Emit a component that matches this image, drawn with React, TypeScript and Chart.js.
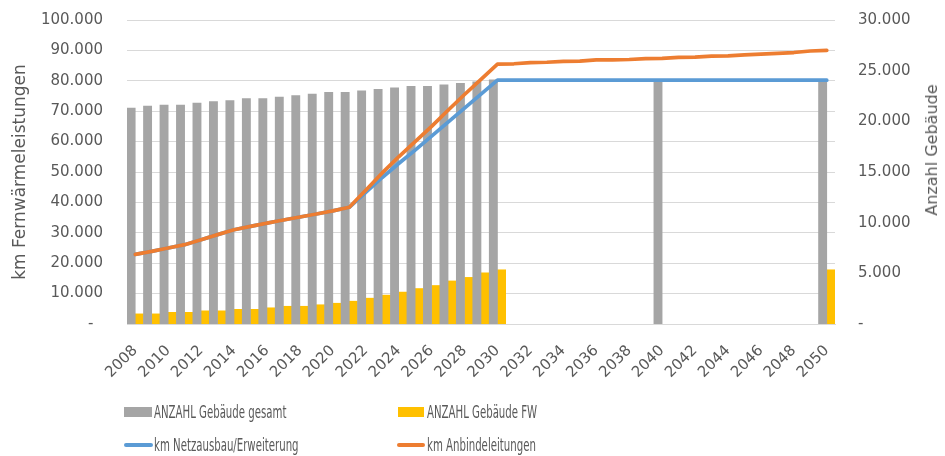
import React, { useEffect, useRef } from 'react';
import { Chart, registerables } from 'chart.js';

Chart.register(...registerables);

const years = [
  '2008', '2009', '2010', '2011', '2012', '2013', '2014', '2015', '2016', '2017',
  '2018', '2019', '2020', '2021', '2022', '2023', '2024', '2025', '2026', '2027',
  '2028', '2029', '2030', '2031', '2032', '2033', '2034', '2035', '2036', '2037',
  '2038', '2039', '2040', '2041', '2042', '2043', '2044', '2045', '2046', '2047',
  '2048', '2049', '2050',
];

// Anzahl Gebäude (right axis)
const gebaeudeGesamt = [
  21300, 21500, 21600, 21600, 21800, 21950, 22050, 22250, 22250, 22400,
  22550, 22700, 22850, 22850, 23000, 23150, 23300, 23450, 23450, 23600,
  23750, 23900, 24100, null, null, null, null, null, null, null,
  null, null, 24100, null, null, null, null, null, null, null,
  null, null, 24100,
];

const gebaeudeFW = [
  1000, 1000, 1150, 1150, 1300, 1300, 1450, 1450, 1600, 1750,
  1750, 1900, 2050, 2250, 2550, 2850, 3150, 3500, 3800, 4250,
  4600, 5050, 5350, null, null, null, null, null, null, null,
  null, null, null, null, null, null, null, null, null, null,
  null, null, 5350,
];

// km (left axis)
const kmNetzausbau = [
  22900, 23900, 25000, 26100, 27700, 29400, 31000, 32100, 33200, 34200,
  35200, 36200, 37200, 38400, 43300, 48200, 52800, 57200, 61800, 66400,
  71000, 75600, 80200, 80200, 80200, 80200, 80200, 80200, 80200, 80200,
  80200, 80200, 80200, 80200, 80200, 80200, 80200, 80200, 80200, 80200,
  80200, 80200, 80200,
];

const kmAnbindeleitungen = [
  22900, 23900, 25000, 26100, 27700, 29400, 31000, 32100, 33200, 34200,
  35200, 36200, 37200, 38400, 44000, 49700, 55000, 60000, 65000, 70300,
  75500, 80500, 85500, 85600, 86000, 86100, 86400, 86500, 86900, 86900,
  87000, 87300, 87400, 87700, 87800, 88100, 88200, 88500, 88800, 89000,
  89300, 89800, 90000,
];

const seriesNames = [
  'ANZAHL Gebäude gesamt',
  'ANZAHL Gebäude FW',
  'km Netzausbau/Erweiterung',
  'km Anbindeleitungen',
];

const leftTitle = 'km Fernwärmeleistungen';
const rightTitle = 'Anzahl Gebäude';

const GRAY = '#A5A5A5';
const YELLOW = '#FFC000';
const BLUE = '#5B9BD5';
const ORANGE = '#ED7D31';
const TEXT = '#595959';
const GRID = '#D9D9D9';
const FONT = "'DejaVu Sans', 'Liberation Sans', sans-serif";
const LEGEND_FONT = "'DejaVu Sans Condensed', 'Liberation Sans Narrow', 'Liberation Sans', sans-serif";

// canvas is shifted up so that the plot area starts 19px from the top of the page
const SHIFT = 13;

function fmt(v: number): string {
  if (v === 0) return '-  ';
  return String(v).replace(/\B(?=(\d{3})+(?!\d))/g, '.');
}

export default function App() {
  const ref = useRef<HTMLCanvasElement>(null);

  useEffect(() => {
    if (!ref.current) return;
    const chart = new Chart(ref.current, {
      type: 'bar',
      data: {
        labels: years,
        datasets: [
          {
            type: 'bar',
            label: seriesNames[0],
            data: gebaeudeGesamt,
            backgroundColor: GRAY,
            yAxisID: 'y1',
            order: 3,
            categoryPercentage: 1,
            barPercentage: 1,
          },
          {
            type: 'bar',
            label: seriesNames[1],
            data: gebaeudeFW,
            backgroundColor: YELLOW,
            yAxisID: 'y1',
            order: 4,
            categoryPercentage: 1,
            barPercentage: 1,
          },
          {
            type: 'line',
            label: seriesNames[2],
            data: kmNetzausbau,
            borderColor: BLUE,
            backgroundColor: BLUE,
            borderWidth: 3.7,
            pointRadius: 0,
            tension: 0,
            borderCapStyle: 'round',
            borderJoinStyle: 'round',
            yAxisID: 'y',
            order: 2,
          },
          {
            type: 'line',
            label: seriesNames[3],
            data: kmAnbindeleitungen,
            borderColor: ORANGE,
            backgroundColor: ORANGE,
            borderWidth: 3.7,
            pointRadius: 0,
            tension: 0,
            borderCapStyle: 'round',
            borderJoinStyle: 'round',
            yAxisID: 'y',
            order: 1,
          },
        ],
      } as any,
      options: {
        responsive: false,
        devicePixelRatio: 1,
        animation: false,
        layout: { padding: { left: 0, right: 0, top: 0, bottom: 72 } },
        plugins: {
          legend: { display: false },
          tooltip: { enabled: false },
        },
        scales: {
          x: {
            offset: true,
            grid: { display: false },
            border: { display: true, color: GRID, width: 1 },
            ticks: {
              autoSkip: false,
              maxRotation: 45,
              minRotation: 45,
              padding: 10,
              color: TEXT,
              font: { family: FONT, size: 15 },
              callback: (_v: any, i: number) => (i % 2 === 0 ? years[i] : ''),
            },
            afterFit: (s: any) => {
              s.height = 60;
            },
          },
          y: {
            position: 'left',
            min: 0,
            max: 100000,
            grid: { color: GRID, lineWidth: 1, drawTicks: false },
            border: { display: false },
            ticks: {
              stepSize: 10000,
              padding: 24,
              color: TEXT,
              font: { family: FONT, size: 15 },
              callback: (v: any) => fmt(Number(v)),
            },
            title: {
              display: true,
              text: leftTitle,
              color: TEXT,
              font: { family: FONT, size: 17 },
              padding: { top: 10, bottom: 0 },
            },
            afterFit: (s: any) => {
              s.width = 127;
            },
          },
          y1: {
            position: 'right',
            min: 0,
            max: 30000,
            grid: { display: false, drawTicks: false },
            border: { display: false },
            ticks: {
              stepSize: 5000,
              padding: 23,
              color: TEXT,
              font: { family: FONT, size: 15 },
              callback: (v: any) => fmt(Number(v)).trim(),
            },
            afterFit: (s: any) => {
              s.width = 110;
            },
          },
        },
      } as any,
    });
    return () => chart.destroy();
  }, []);

  const textStyle = (left: number, top: number): React.CSSProperties => ({
    position: 'absolute',
    left,
    top,
    height: 22,
    lineHeight: '22px',
    fontFamily: LEGEND_FONT,
    fontSize: 17,
    color: TEXT,
    whiteSpace: 'nowrap',
    transform: 'scaleX(0.665)',
    transformOrigin: 'left center',
  });

  return (
    <div
      style={{
        position: 'absolute',
        left: 0,
        top: 0,
        width: 945,
        height: 456,
        background: '#fff',
        overflow: 'hidden',
      }}
    >
      <canvas
        ref={ref}
        width={945}
        height={456 + SHIFT}
        style={{ position: 'absolute', left: 0, top: -SHIFT, display: 'block', width: 945, height: 456 + SHIFT }}
      />
      <div
        style={{
          position: 'absolute',
          left: 932,
          top: 150,
          transform: 'translate(-50%, -50%) rotate(-90deg)',
          whiteSpace: 'nowrap',
          fontFamily: FONT,
          fontSize: 16,
          lineHeight: '20px',
          color: TEXT,
        }}
      >
        {rightTitle}
      </div>
      <div style={{ position: 'absolute', left: 124, top: 407, width: 28, height: 10, background: GRAY }} />
      <div style={textStyle(154, 401)}>{seriesNames[0]}</div>
      <div style={{ position: 'absolute', left: 398, top: 407, width: 26, height: 10, background: YELLOW }} />
      <div style={textStyle(427, 401)}>{seriesNames[1]}</div>
      <div
        style={{ position: 'absolute', left: 124, top: 443, width: 29, height: 4, borderRadius: 2, background: BLUE }}
      />
      <div style={textStyle(154, 434)}>{seriesNames[2]}</div>
      <div
        style={{ position: 'absolute', left: 397, top: 443, width: 28, height: 4, borderRadius: 2, background: ORANGE }}
      />
      <div style={textStyle(427, 434)}>{seriesNames[3]}</div>
    </div>
  );
}
